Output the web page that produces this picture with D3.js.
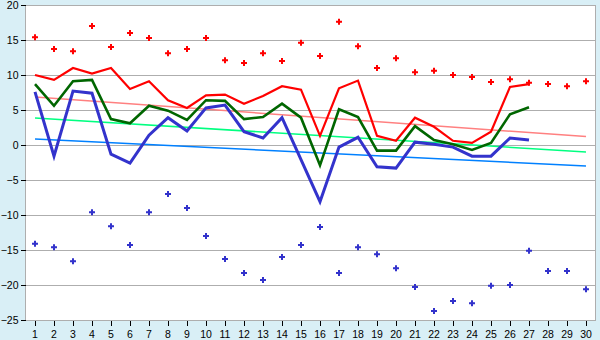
<!DOCTYPE html>
<html>
<head>
<meta charset="utf-8">
<script src="https://cdn.jsdelivr.net/npm/d3@7"></script>
<style>
  html, body { margin: 0; padding: 0; background: #d9eff6; }
  svg { display: block; }
  .axis text { font-family: "Liberation Sans", Arial, sans-serif; font-size: 10.5px; fill: #000; }
  .axis path { display: none; }
  .axis line { stroke: #000; shape-rendering: crispEdges; }
</style>
</head>
<body>
<svg id="chart" width="600" height="340"></svg>
<script>
// Days of the month
const days = d3.range(1, 31);

// Daily extremes (markers)
const maxPoints = [15.4, 13.7, 13.4, 17.0, 14.0, 16.0, 15.3, 13.1, 13.7, 15.3,
                   12.1, 11.7, 13.1, 12.0, 14.6, 12.7, 17.6, 14.1, 11.0, 12.4,
                   10.4, 10.6, 10.0, 9.7, 9.0, 9.4, 8.9, 8.7, 8.4, 9.1];
const minPoints = [-14.1, -14.6, -16.6, -9.6, -11.6, -14.3, -9.6, -7.0, -9.0, -13.0,
                   -16.3, -18.3, -19.3, -16.0, -14.3, -11.7, -18.3, -14.6, -15.6, -17.6,
                   -20.3, -23.7, -22.3, -22.6, -20.1, -20.0, -15.1, -18.0, -18.0, -20.6];

// Daily series (days 1–27)
const redSeries = [10.0, 9.3, 11.0, 10.2, 11.0, 8.0, 9.1, 6.4, 5.3, 7.1,
                   7.2, 5.9, 7.0, 8.4, 7.9, 1.3, 8.1, 9.2, 1.3, 0.6,
                   3.9, 2.6, 0.6, 0.3, 1.9, 8.3, 8.7];
const greenSeries = [8.7, 5.6, 9.1, 9.3, 3.7, 3.1, 5.6, 4.9, 3.6, 6.4,
                     6.3, 3.7, 4.0, 5.9, 3.9, -2.9, 5.1, 4.0, -0.8, -0.8,
                     2.7, 0.7, 0.1, -0.7, 0.3, 4.4, 5.4];
const blueSeries = [7.6, -1.6, 7.7, 7.4, -1.3, -2.6, 1.4, 3.9, 2.0, 5.3,
                    5.7, 1.9, 1.0, 3.9, -2.1, -8.1, -0.3, 1.1, -3.1, -3.3,
                    0.4, 0.1, -0.3, -1.6, -1.6, 1.0, 0.7];

// Trend lines: value on day 1 and on day 30
const trendDays = [1, 30];
const redTrend = [6.86, 1.2];
const greenTrend = [3.86, -1.0];
const blueTrend = [0.86, -3.0];

// Axis ticks
const yTicks = [-25, -20, -15, -10, -5, 0, 5, 10, 15, 20];

const svg = d3.select("#chart");

const x = d3.scaleBand().domain(days).range([25.5, 595.5]);
const cx = d => x(d) + x.bandwidth() / 2;
const y = d3.scaleLinear().domain([-25, 20]).range([320, 5]);

// Plot background
svg.append("rect")
  .attr("x", 25.5).attr("y", 5)
  .attr("width", 570).attr("height", 315)
  .attr("fill", "#ffffff");

// Horizontal grid
svg.append("g").selectAll("line").data(yTicks).join("line")
  .attr("x1", 26).attr("x2", 595)
  .attr("y1", d => Math.round(y(d)) + 0.5).attr("y2", d => Math.round(y(d)) + 0.5)
  .attr("stroke", "#aeaeae").attr("stroke-width", 1)
  .attr("shape-rendering", "crispEdges");

// Plot frame
svg.append("rect")
  .attr("x", 25.5).attr("y", 5.5)
  .attr("width", 570).attr("height", 314.5)
  .attr("fill", "none").attr("stroke", "#aeaeae")
  .attr("shape-rendering", "crispEdges");

// Axes
svg.append("g").attr("class", "axis")
  .attr("transform", "translate(0,320.5)")
  .call(d3.axisBottom(x).tickSize(5).tickPadding(5).tickSizeOuter(0));

svg.append("g").attr("class", "axis")
  .attr("transform", "translate(25.5,0)")
  .call(d3.axisLeft(y).tickValues(yTicks).tickSize(5).tickPadding(2).tickSizeOuter(0));

// Trend lines
const trendLine = d3.line().x((d, i) => cx(trendDays[i])).y(d => y(d));
[[redTrend, "#ff8080"], [greenTrend, "#00ff80"], [blueTrend, "#0080ff"]].forEach(([data, color]) => {
  svg.append("path").datum(data)
    .attr("d", trendLine)
    .attr("fill", "none").attr("stroke", color).attr("stroke-width", 1.5);
});

// Daily series lines
const seriesLine = d3.line().x((d, i) => cx(days[i])).y(d => y(d));
[[redSeries, "#ff0000", 2.2], [greenSeries, "#006600", 2.6], [blueSeries, "#3333cc", 3]].forEach(([data, color, w]) => {
  svg.append("path").datum(data)
    .attr("d", seriesLine)
    .attr("fill", "none").attr("stroke", color)
    .attr("stroke-width", w).attr("stroke-linejoin", "miter");
});

// Extreme markers: a plus with a filled diamond core
const cross = d3.symbol().type(d3.symbolCross).size(20);
const core = d3.symbol().type(d3.symbolSquare).size(7);
[[maxPoints, "#ff0000"], [minPoints, "#3333cc"]].forEach(([data, color]) => {
  const g = svg.append("g").selectAll("g").data(data).join("g")
    .attr("transform", (d, i) => `translate(${cx(days[i])},${y(d)})`)
    .attr("fill", color);
  g.append("path").attr("d", cross);
  g.append("path").attr("d", core).attr("transform", "rotate(45)");
});
</script>
</body>
</html>
